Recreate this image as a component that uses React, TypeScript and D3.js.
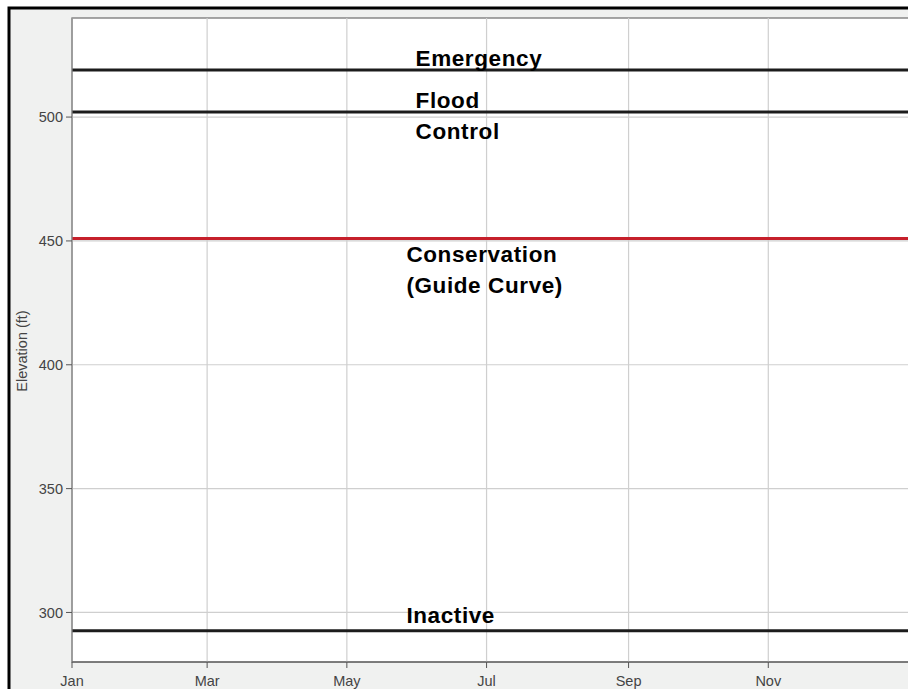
import React from 'react'
import * as d3 from 'd3'

// pool zones (ft), flat across the year
const zoneNames = ['Emergency', 'Flood Control', 'Conservation (Guide Curve)', 'Inactive']
const zoneElevations = [519, 502, 451, 292.6]
const yTicks = [300, 350, 400, 450, 500]
const yearStart = new Date(2001, 0, 1)
const yearEnd = new Date(2002, 0, 1)

// label lines: [text, date, elevation]
const labelLines: [string, Date, number][] = [
  ['Emergency', new Date(2001, 4, 31), 520.6],
  ['Flood', new Date(2001, 4, 31), 503.8],
  ['Control', new Date(2001, 4, 31), 491.3],
  ['Conservation', new Date(2001, 4, 27), 441.5],
  ['(Guide Curve)', new Date(2001, 4, 27), 429],
  ['Inactive', new Date(2001, 4, 27), 295.6],
]

const zoneColors = ['#1c1c1c', '#1c1c1c', '#c6202b', '#1c1c1c']

const W = 908
const H = 689
const left = 72
const top = 18
const bottom = 662

const App = () => {
  const x = d3.scaleTime().domain([yearStart, yearEnd]).range([left, W])
  const y = d3.scaleLinear().domain([280, 540]).range([bottom, top])
  // the plot runs past the right edge, so the closing Jan tick is not shown
  const months = x.ticks(d3.timeMonth.every(2)!).filter((m) => m < yearEnd)
  const fmt = d3.timeFormat('%b')
  const line = d3
    .line<[Date, number]>()
    .x((d) => x(d[0]))
    .y((d) => y(d[1]))

  return (
    <svg
      width={W}
      height={H}
      style={{position: 'absolute', left: 0, top: 0, overflow: 'hidden'}}
      fontFamily="Liberation Sans, Arial, sans-serif"
    >
      <rect x={0} y={0} width={W} height={H} fill="#fff" />
      <rect x={9} y={8} width={W + 100} height={H + 100} fill="#f0f1f0" stroke="#000" strokeWidth={3} />
      <rect x={left} y={top} width={W - left + 50} height={bottom - top} fill="#fff" stroke="#777" strokeWidth={1.3} />

      {/* grid */}
      {yTicks.map((t) => (
        <line key={'gy' + t} x1={left} x2={W} y1={y(t)} y2={y(t)} stroke="#cfcfcf" strokeWidth={1.2} />
      ))}
      {months.map((m) => (
        <line key={'gx' + m.getTime()} x1={x(m)} x2={x(m)} y1={top} y2={bottom} stroke="#cfcfcf" strokeWidth={1.2} />
      ))}

      {/* zone lines */}
      {zoneElevations.map((v, i) => (
        <path
          key={zoneNames[i]}
          d={line([[yearStart, v], [yearEnd, v]]) || ''}
          stroke={zoneColors[i]}
          strokeWidth={3}
          fill="none"
        />
      ))}

      {/* axes */}
      <line x1={left} x2={left} y1={top} y2={bottom} stroke="#888" strokeWidth={1.2} />
      <line x1={left} x2={W} y1={bottom} y2={bottom} stroke="#555" strokeWidth={1.2} />
      {yTicks.map((t) => (
        <g key={'ty' + t} transform={`translate(${left},${y(t)})`}>
          <line x1={-6} x2={0} stroke="#555" />
          <text x={-9} dy="0.36em" textAnchor="end" fontSize={14.5} fill="#444">
            {t}
          </text>
        </g>
      ))}
      {months.map((m) => (
        <g key={'tx' + m.getTime()} transform={`translate(${x(m)},${bottom})`}>
          <line y1={0} y2={6} stroke="#555" />
          <text y={24} textAnchor="middle" fontSize={14.5} fill="#444">
            {fmt(m)}
          </text>
        </g>
      ))}
      <text
        transform={`translate(27,351) rotate(-90)`}
        textAnchor="middle"
        fontSize={14.5}
        fill="#444"
      >
        Elevation (ft)
      </text>

      {/* zone labels */}
      {labelLines.map(([t, d, v]) => (
        <text
          key={t}
          x={x(d)}
          y={y(v)}
          fontSize={22.5}
          fontWeight="bold"
          letterSpacing={0.6}
          fill="#000"
        >
          {t}
        </text>
      ))}
    </svg>
  )
}

export default App
